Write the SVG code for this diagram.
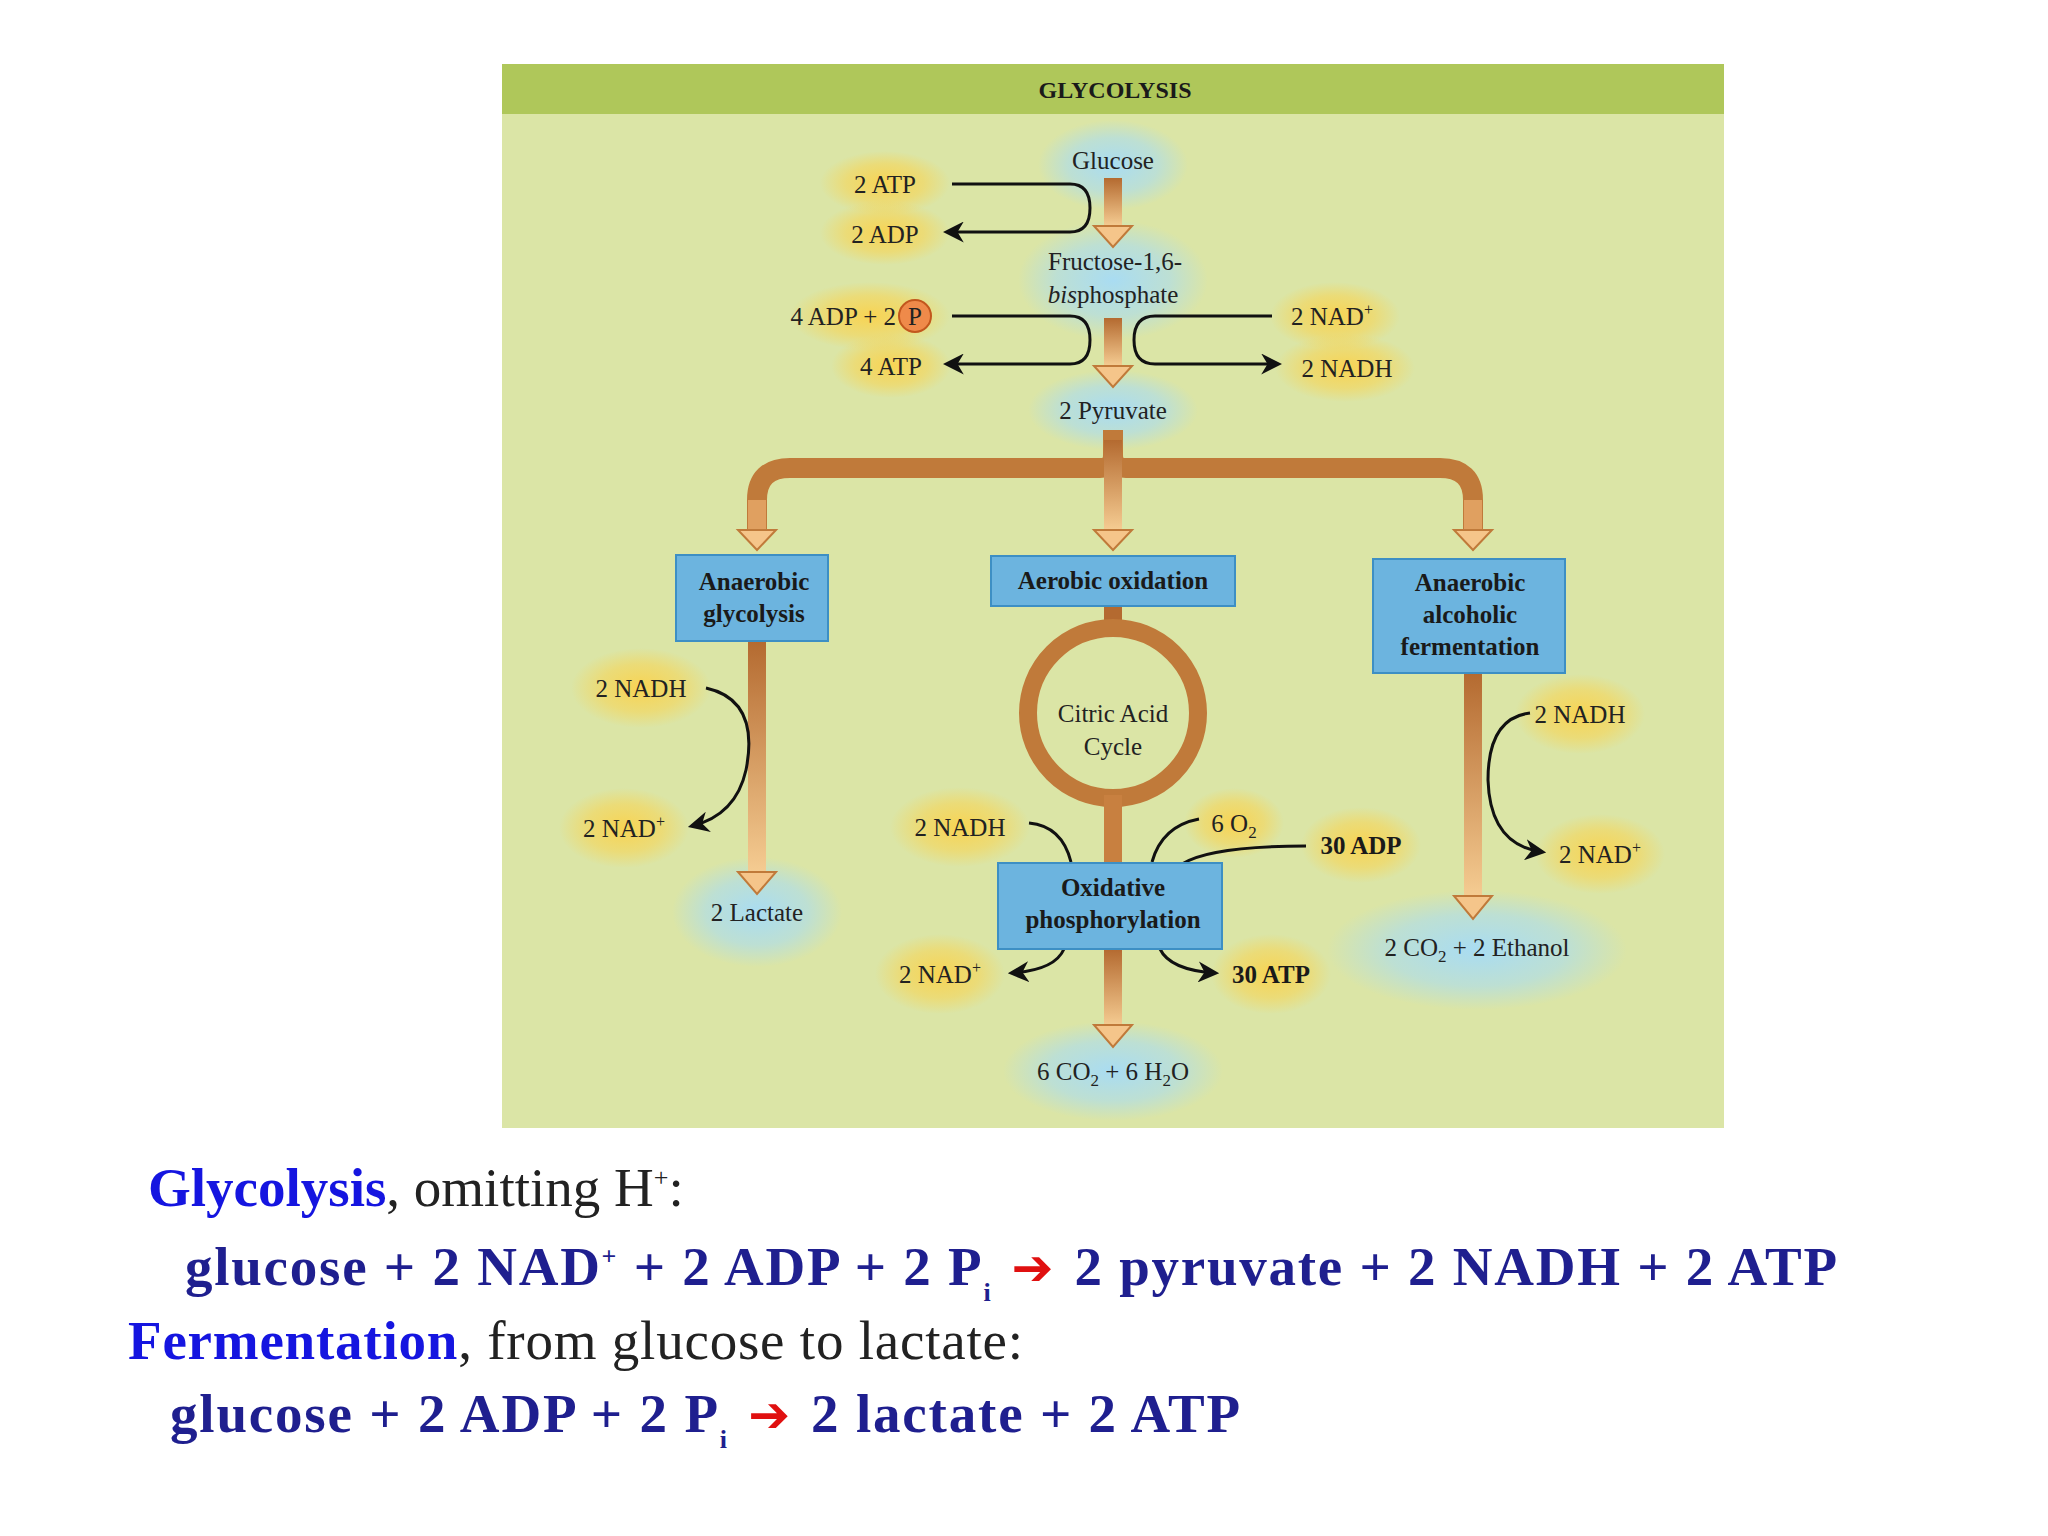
<svg xmlns="http://www.w3.org/2000/svg" width="2048" height="1536" viewBox="0 0 2048 1536">
<defs>
<radialGradient id="gy"><stop offset="0" stop-color="#fbd24a" stop-opacity="0.9"/><stop offset="0.6" stop-color="#fbd24a" stop-opacity="0.5"/><stop offset="1" stop-color="#fbd24a" stop-opacity="0"/></radialGradient>
<radialGradient id="gb"><stop offset="0" stop-color="#a9dcf2" stop-opacity="1"/><stop offset="0.6" stop-color="#a9dcf2" stop-opacity="0.6"/><stop offset="1" stop-color="#a9dcf2" stop-opacity="0"/></radialGradient>
<linearGradient id="sv" x1="0" y1="0" x2="0" y2="1"><stop offset="0" stop-color="#b46a30"/><stop offset="1" stop-color="#f5cc92"/></linearGradient>
<marker id="ah" viewBox="0 0 10 10" refX="8" refY="5" markerWidth="7" markerHeight="7" orient="auto-start-reverse"><path d="M0,0 L10,5 L0,10 L3,5 Z" fill="#111"/></marker>
<style>
text{font-family:"Liberation Serif",serif;fill:#222;}
.t{font-size:25px;text-anchor:middle;}
.b{font-size:25px;font-weight:bold;text-anchor:middle;fill:#1a1a1a;}
.box{fill:#6cb4df;stroke:#3d8fc4;stroke-width:2;}
.c{fill:none;stroke:#111;stroke-width:3;marker-end:url(#ah);}
.head{fill:#f5c58a;stroke:#c07a3a;stroke-width:2;}
.big{font-size:55px;font-family:"Liberation Serif",serif;}
.bb{font-weight:bold;fill:#1f1f8f;}
.blue{fill:#1515e0;font-weight:bold;}
.ra{fill:#e01010;font-family:"DejaVu Sans",sans-serif;font-weight:bold;font-size:50px;}
</style>
</defs>
<rect width="2048" height="1536" fill="#fff"/>
<g id="panel">
<rect x="502" y="64" width="1222" height="1064" fill="#dbe5a6"/>
<rect x="502" y="64" width="1222" height="50" fill="#afc75a"/>
<text x="1115" y="98" class="b" style="font-size:24px">GLYCOLYSIS</text>
</g>
<g id="glows">
<ellipse cx="1113" cy="165" rx="75" ry="45" fill="url(#gb)"/>
<ellipse cx="1113" cy="280" rx="95" ry="60" fill="url(#gb)"/>
<ellipse cx="1113" cy="410" rx="85" ry="40" fill="url(#gb)"/>
<ellipse cx="885" cy="183" rx="65" ry="32" fill="url(#gy)"/>
<ellipse cx="885" cy="233" rx="65" ry="32" fill="url(#gy)"/>
<ellipse cx="870" cy="316" rx="80" ry="34" fill="url(#gy)"/>
<ellipse cx="891" cy="366" rx="60" ry="32" fill="url(#gy)"/>
<ellipse cx="1335" cy="316" rx="65" ry="34" fill="url(#gy)"/>
<ellipse cx="1345" cy="368" rx="70" ry="34" fill="url(#gy)"/>
<ellipse cx="641" cy="688" rx="70" ry="40" fill="url(#gy)"/>
<ellipse cx="624" cy="828" rx="65" ry="40" fill="url(#gy)"/>
<ellipse cx="757" cy="912" rx="85" ry="55" fill="url(#gb)"/>
<ellipse cx="960" cy="827" rx="70" ry="40" fill="url(#gy)"/>
<ellipse cx="1234" cy="823" rx="50" ry="35" fill="url(#gy)"/>
<ellipse cx="1361" cy="845" rx="60" ry="38" fill="url(#gy)"/>
<ellipse cx="940" cy="974" rx="65" ry="40" fill="url(#gy)"/>
<ellipse cx="1271" cy="974" rx="60" ry="40" fill="url(#gy)"/>
<ellipse cx="1113" cy="1071" rx="110" ry="50" fill="url(#gb)"/>
<ellipse cx="1580" cy="714" rx="65" ry="40" fill="url(#gy)"/>
<ellipse cx="1600" cy="854" rx="65" ry="40" fill="url(#gy)"/>
<ellipse cx="1477" cy="950" rx="150" ry="60" fill="url(#gb)"/>
</g>
<g id="connectors">
<rect x="1104" y="178" width="18" height="48" fill="url(#sv)"/>
<polygon class="head" points="1094,226 1132,226 1113,247"/>
<rect x="1104" y="318" width="18" height="48" fill="url(#sv)"/>
<polygon class="head" points="1094,366 1132,366 1113,387"/>
<path d="M1113,430 V455 Q1113,468 1100,468 H790 Q757,468 757,500 V530" fill="none" stroke="#c07a3a" stroke-width="20"/>
<path d="M1113,430 V455 Q1113,468 1126,468 H1440 Q1473,468 1473,500 V530" fill="none" stroke="#c07a3a" stroke-width="20"/>
<rect x="1104" y="440" width="18" height="90" fill="url(#sv)"/>
<rect x="748" y="500" width="18" height="30" fill="#e0a060"/>
<rect x="1464" y="500" width="18" height="30" fill="#e0a060"/>
<polygon class="head" points="738,530 776,530 757,550"/>
<polygon class="head" points="1094,530 1132,530 1113,550"/>
<polygon class="head" points="1454,530 1492,530 1473,550"/>
<rect x="748" y="641" width="18" height="232" fill="url(#sv)"/>
<polygon class="head" points="738,872 776,872 757,894"/>
<rect x="1464" y="673" width="18" height="224" fill="url(#sv)"/>
<polygon class="head" points="1454,896 1492,896 1473,919"/>
<rect x="1104" y="606" width="18" height="30" fill="#b46a30"/>
<circle cx="1113" cy="713" r="85" fill="none" stroke="#c07a3a" stroke-width="18"/>
<rect x="1104" y="795" width="18" height="68" fill="#c88040"/>
<rect x="1104" y="949" width="18" height="77" fill="url(#sv)"/>
<polygon class="head" points="1094,1025 1132,1025 1113,1047"/>
<path class="c" d="M952,184 H1070 Q1090,184 1090,208 Q1090,232 1070,232 H947"/>
<path class="c" d="M952,316 H1070 Q1090,316 1090,340 Q1090,364 1070,364 H947"/>
<path class="c" d="M1272,316 H1155 Q1134,316 1134,340 Q1134,364 1155,364 H1278"/>
<path class="c" d="M706,688 Q760,700 746,770 Q736,815 692,826"/>
<path class="c" d="M1530,713 Q1488,718 1488,780 Q1490,845 1542,852"/>
<path d="M1029,823 Q1062,826 1071,862" fill="none" stroke="#111" stroke-width="3"/>
<path d="M1199,819 Q1162,826 1152,862" fill="none" stroke="#111" stroke-width="3"/>
<path d="M1306,846 Q1210,846 1182,864" fill="none" stroke="#111" stroke-width="3"/>
<path class="c" d="M1064,949 Q1055,970 1012,973"/>
<path class="c" d="M1160,949 Q1170,970 1215,973"/>
</g>
<g id="n-glucose"><text x="1113" y="169" class="t">Glucose</text></g>
<g id="n-2atp"><text x="885" y="193" class="t">2 ATP</text></g>
<g id="n-2adp"><text x="885" y="243" class="t">2 ADP</text></g>
<g id="n-f16bp"><text x="1115" y="270" class="t">Fructose-1,6-</text><text x="1113" y="303" class="t"><tspan font-style="italic">bis</tspan>phosphate</text></g>
<g id="n-4adp"><text x="896" y="325" class="t" style="text-anchor:end">4 ADP + 2</text><circle cx="915" cy="316" r="16" fill="#ef8a4a" stroke="#c2571d" stroke-width="2"/><text x="915" y="325" class="t">P</text></g>
<g id="n-4atp"><text x="891" y="375" class="t">4 ATP</text></g>
<g id="n-nad1"><text x="1332" y="325" class="t">2 NAD<tspan dy="-10" font-size="16">+</tspan></text></g>
<g id="n-nadh1"><text x="1347" y="377" class="t">2 NADH</text></g>
<g id="n-pyr"><text x="1113" y="419" class="t">2 Pyruvate</text></g>
<g id="n-anaer"><rect class="box" x="676" y="555" width="152" height="86"/><text x="754" y="590" class="b">Anaerobic</text><text x="754" y="622" class="b">glycolysis</text></g>
<g id="n-aer"><rect class="box" x="991" y="556" width="244" height="50"/><text x="1113" y="589" class="b">Aerobic oxidation</text></g>
<g id="n-alc"><rect class="box" x="1373" y="559" width="192" height="114"/><text x="1470" y="591" class="b">Anaerobic</text><text x="1470" y="623" class="b">alcoholic</text><text x="1470" y="655" class="b">fermentation</text></g>
<g id="n-tca"><text x="1113" y="722" class="t">Citric Acid</text><text x="1113" y="755" class="t">Cycle</text></g>
<g id="n-ox"><rect class="box" x="998" y="863" width="224" height="86"/><text x="1113" y="896" class="b">Oxidative</text><text x="1113" y="928" class="b">phosphorylation</text></g>
<g id="n-lnadh"><text x="641" y="697" class="t">2 NADH</text></g>
<g id="n-lnad"><text x="624" y="837" class="t">2 NAD<tspan dy="-10" font-size="16">+</tspan></text></g>
<g id="n-lac"><text x="757" y="921" class="t">2 Lactate</text></g>
<g id="n-mnadh"><text x="960" y="836" class="t">2 NADH</text></g>
<g id="n-o2"><text x="1234" y="832" class="t">6 O<tspan dy="6" font-size="17">2</tspan></text></g>
<g id="n-30adp"><text x="1361" y="854" class="b">30 ADP</text></g>
<g id="n-mnad"><text x="940" y="983" class="t">2 NAD<tspan dy="-10" font-size="16">+</tspan></text></g>
<g id="n-30atp"><text x="1271" y="983" class="b">30 ATP</text></g>
<g id="n-co2h2o"><text x="1113" y="1080" class="t">6 CO<tspan dy="6" font-size="17">2</tspan><tspan dy="-6"> + 6 H</tspan><tspan dy="6" font-size="17">2</tspan><tspan dy="-6">O</tspan></text></g>
<g id="n-rnadh"><text x="1580" y="723" class="t">2 NADH</text></g>
<g id="n-rnad"><text x="1600" y="863" class="t">2 NAD<tspan dy="-10" font-size="16">+</tspan></text></g>
<g id="n-eth"><text x="1477" y="956" class="t">2 CO<tspan dy="6" font-size="17">2</tspan><tspan dy="-6"> + 2 Ethanol</tspan></text></g>
<g id="equations">
<text x="148" y="1206" class="big"><tspan class="blue">Glycolysis</tspan>, omitting H<tspan dy="-20" font-size="26">+</tspan><tspan dy="20">:</tspan></text>
<text x="185" y="1285" class="big bb" textLength="1652" lengthAdjust="spacing">glucose + 2 NAD<tspan dy="-20" font-size="26">+</tspan><tspan dy="20"> + 2 ADP + 2 P</tspan><tspan dy="16" font-size="26">i</tspan><tspan dy="-16" class="ra">  ➔  </tspan><tspan>2 pyruvate + 2 NADH + 2 ATP</tspan></text>
<text x="128" y="1359" class="big" textLength="895" lengthAdjust="spacing"><tspan class="blue">Fermentation</tspan>, from glucose to lactate:</text>
<text x="170" y="1432" class="big bb" textLength="1070" lengthAdjust="spacing">glucose + 2 ADP + 2 P<tspan dy="16" font-size="26">i</tspan><tspan dy="-16" class="ra">  ➔  </tspan><tspan>2 lactate + 2 ATP</tspan></text>
</g>
</svg>
